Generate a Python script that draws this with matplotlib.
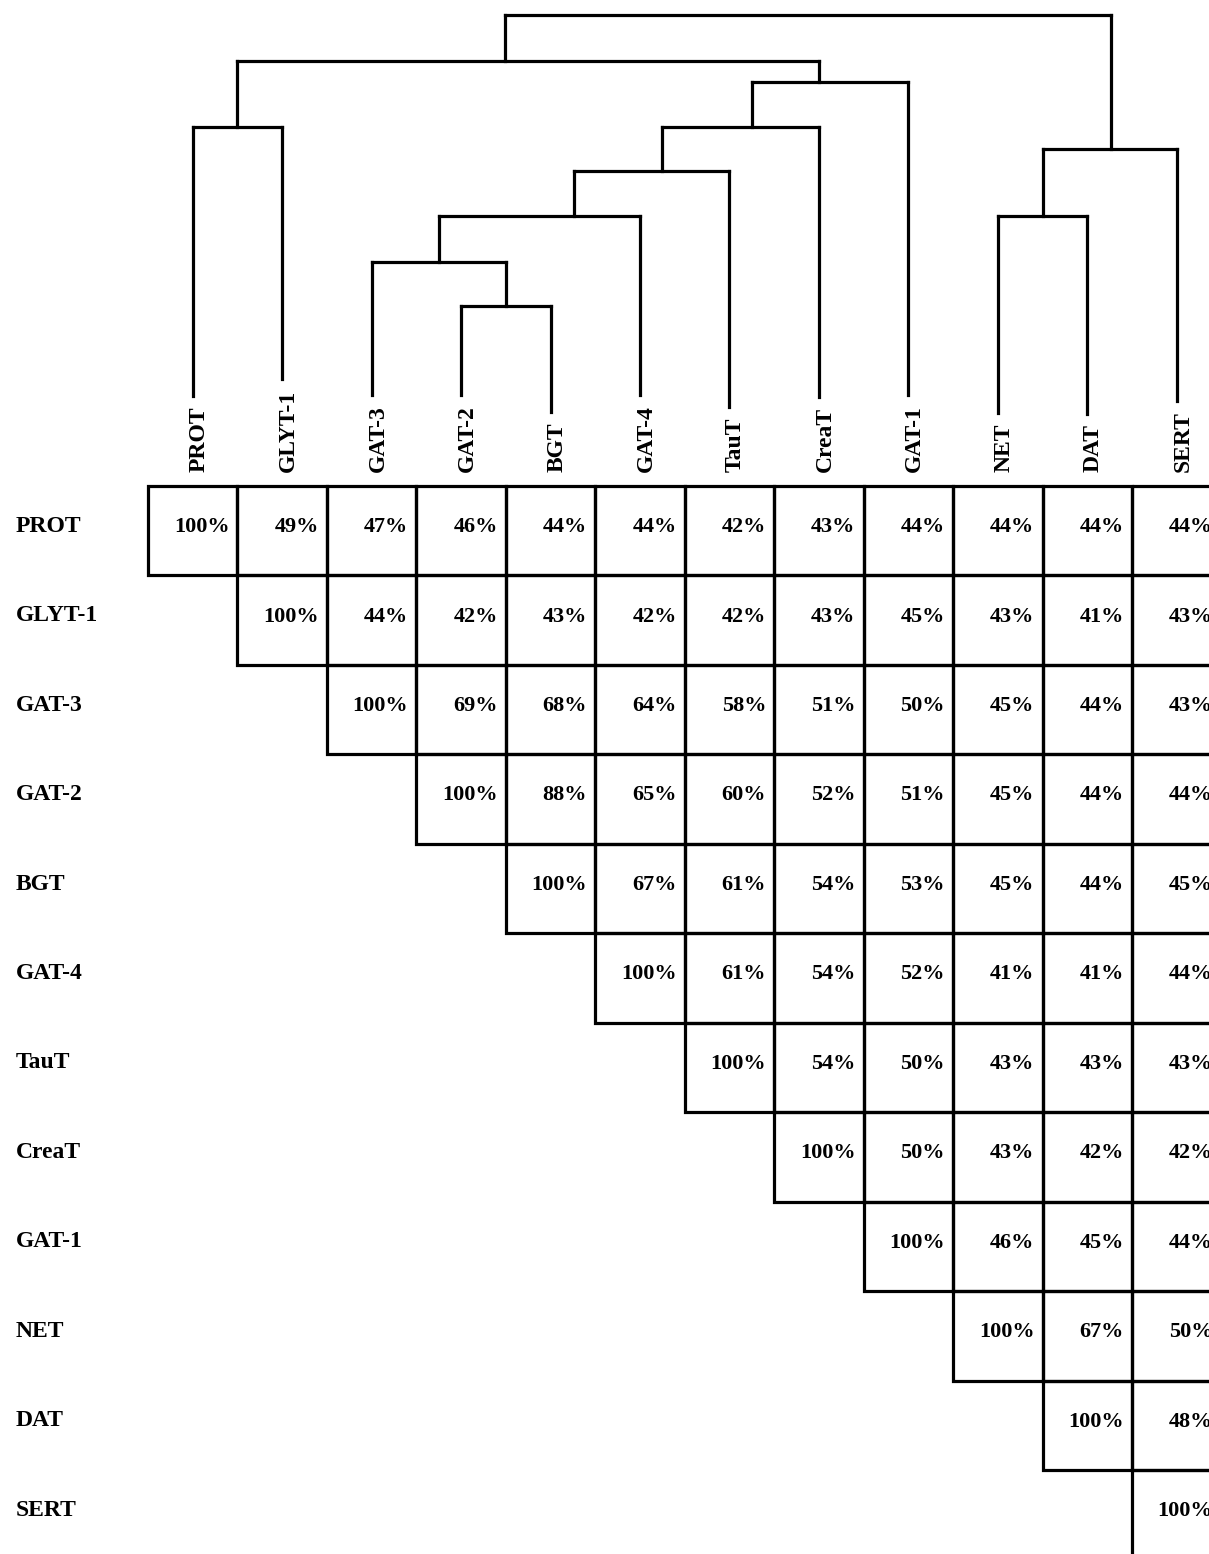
# Identity matrix of transporters with a dendrogram on top
import matplotlib
matplotlib.use('Agg')
import matplotlib.pyplot as plt
from matplotlib.patches import Rectangle

names = ['PROT', 'GLYT-1', 'GAT-3', 'GAT-2', 'BGT', 'GAT-4', 'TauT',
         'CreaT', 'GAT-1', 'NET', 'DAT', 'SERT']

# upper triangle of the identity table, one list per row (starting at diagonal)
identity = [
    [100, 49, 47, 46, 44, 44, 42, 43, 44, 44, 44, 44],
    [100, 44, 42, 43, 42, 42, 43, 45, 43, 41, 43],
    [100, 69, 68, 64, 58, 51, 50, 45, 44, 43],
    [100, 88, 65, 60, 52, 51, 45, 44, 44],
    [100, 67, 61, 54, 53, 45, 44, 45],
    [100, 61, 54, 52, 41, 41, 44],
    [100, 54, 50, 43, 43, 43],
    [100, 50, 43, 42, 42],
    [100, 46, 45, 44],
    [100, 67, 50],
    [100, 48],
    [100],
]

# dendrogram merges: (left node, right node, height, where the stem sits between them)
# leaves are 0..11, merged nodes are numbered 12, 13, ...
merges = [
    (3, 4, 2.01, 0.50),     # 12: GAT-2 + BGT
    (2, 12, 2.50, 0.50),    # 13: GAT-3
    (13, 5, 3.02, 0.67),    # 14: GAT-4
    (14, 6, 3.52, 0.57),    # 15: TauT
    (15, 7, 4.01, 0.57),    # 16: CreaT
    (16, 8, 4.52, 0.43),    # 17: GAT-1
    (0, 1, 4.01, 0.50),     # 18: PROT + GLYT-1
    (18, 17, 4.75, 0.46),   # 19
    (9, 10, 3.02, 0.50),    # 20: NET + DAT
    (20, 11, 3.77, 0.51),   # 21: SERT
    (19, 21, 5.27, None),   # root
]

W, H = 1209, 1554
cell = 89.45
x0, y0 = 148, 486

fig = plt.figure(figsize=(W / 100, H / 100), dpi=100)
ax = fig.add_axes([0, 0, 1, 1])
ax.set_xlim(-x0 / cell, (W - x0) / cell)
ax.set_ylim((H - y0) / cell, -y0 / cell)
ax.axis('off')

font = 'Liberation Serif'
lw = 2.3
n = len(names)

# table cells
for i, row in enumerate(identity):
    for k, val in enumerate(row):
        j = i + k
        ax.add_patch(Rectangle((j, i), 1, 1, fill=False, ec='black', lw=lw))
        ax.text(j + 0.91, i + 0.46, f'{val}%', ha='right', va='center',
                family=font, weight='bold', fontsize=16)
    ax.text(-1.475, i + 0.45, names[i], ha='left', va='center',
            family=font, weight='bold', fontsize=17)

# column labels
col_labels = []
for j, name in enumerate(names):
    t = ax.text(j + 0.57, -0.16, name, rotation=90, ha='center', va='bottom',
                family=font, weight='bold', fontsize=17)
    col_labels.append(t)

# leaf lines end a little above their labels
fig.canvas.draw()
inv = ax.transData.inverted()
node_x = {}
node_h = {}
leaf_bottom = {}
for j, t in enumerate(col_labels):
    bb = t.get_window_extent()
    top = inv.transform((0, bb.y1))[1]
    leaf_bottom[j] = top - 10 / cell
    node_x[j] = j + 0.5
    node_h[j] = None

for m, (a, b, h, frac) in enumerate(merges):
    y = -h
    for c in (a, b):
        start = leaf_bottom[c] if c < n else -node_h[c]
        ax.plot([node_x[c], node_x[c]], [start, y], color='black', lw=lw,
                solid_capstyle='projecting')
    ax.plot([node_x[a], node_x[b]], [y, y], color='black', lw=lw,
            solid_capstyle='projecting')
    if frac is not None:
        node_x[n + m] = node_x[a] + frac * (node_x[b] - node_x[a])
        node_h[n + m] = h

fig.savefig('out.png', dpi=100)
